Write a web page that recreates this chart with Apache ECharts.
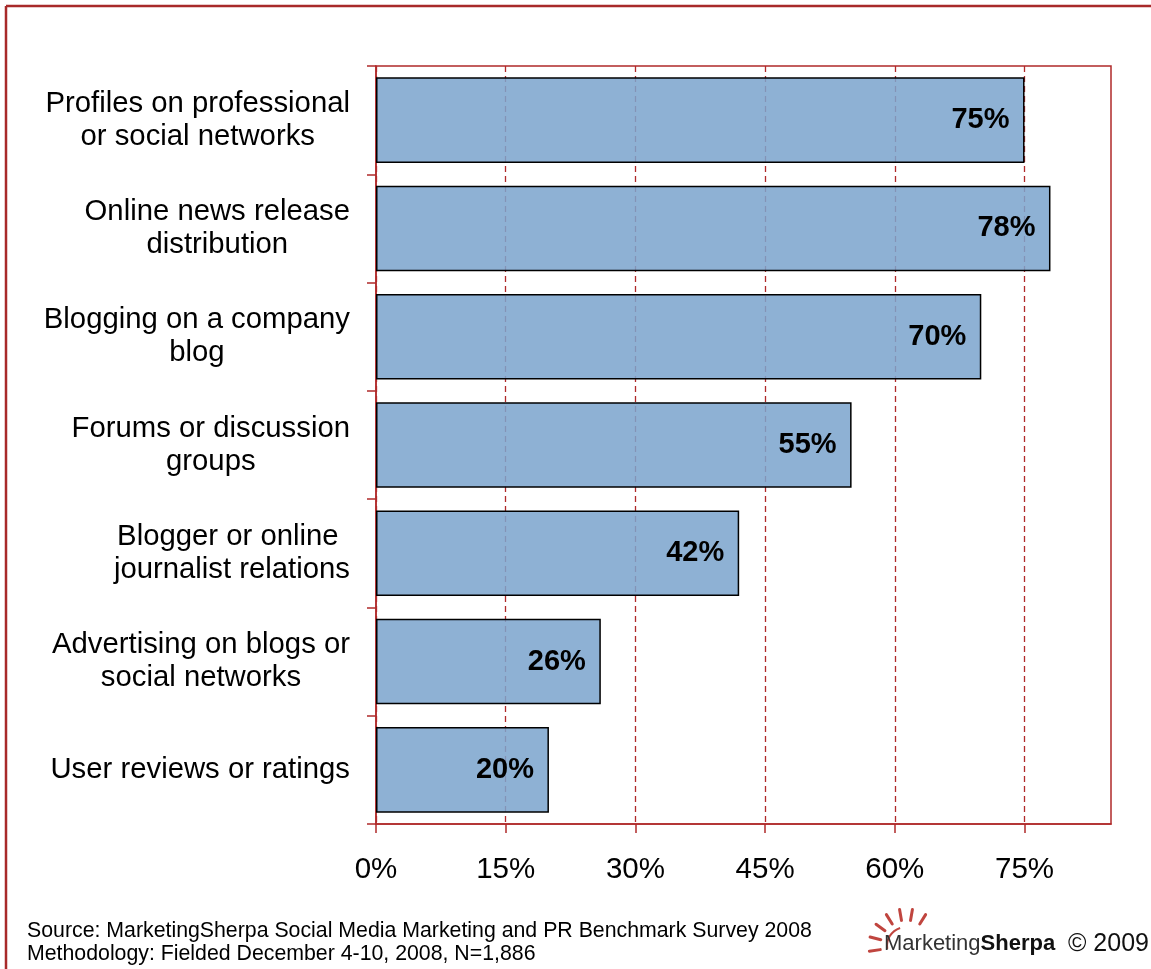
<!DOCTYPE html>
<html>
<head>
<meta charset="utf-8">
<script src="https://cdn.jsdelivr.net/npm/echarts@6/dist/echarts.min.js"></script>
<style>
  html, body { margin: 0; padding: 0; background: #fff; }
  #chart { width: 1151px; height: 969px; }
</style>
</head>
<body>
<div id="chart"></div>
<script>
// Survey categories (top to bottom) and share of respondents using each tactic
const categories = [
  'Profiles on professional\nor social networks',
  'Online news release\ndistribution',
  'Blogging on a company\nblog',
  'Forums or discussion\ngroups',
  'Blogger or online \njournalist relations',
  'Advertising on blogs or\nsocial networks',
  'User reviews or ratings'
];
const values = [75, 78, 70, 55, 42, 26, 20];
const xTicks = [0, 15, 30, 45, 60, 75];

const RED = '#B02A2A';
const FONT = 'Liberation Sans, Arial, sans-serif';

const chart = echarts.init(document.getElementById('chart'), null, { renderer: 'canvas' });

// Small sun mark next to the publisher name
const sunCx = 906, sunCy = 946;
const rays = [];
const rayAngles = [100, 122, 144, 166, 188, 80, 58];
rayAngles.forEach(function (deg) {
  const a = deg * Math.PI / 180;
  rays.push({
    type: 'line',
    shape: {
      x1: sunCx + Math.cos(a) * 26, y1: sunCy - Math.sin(a) * 26,
      x2: sunCx + Math.cos(a) * 37, y2: sunCy - Math.sin(a) * 37
    },
    style: { stroke: '#C0453F', lineWidth: 3, lineCap: 'round' }
  });
});

chart.setOption({
  animation: false,
  backgroundColor: '#fff',
  grid: {
    left: 376, top: 66, right: 40, bottom: 145,
    show: true, borderColor: RED, borderWidth: 1.5, backgroundColor: 'transparent'
  },
  xAxis: {
    type: 'value',
    min: 0, max: 85, interval: 15,
    axisLine: { show: true, lineStyle: { color: RED, width: 1.5 } },
    axisTick: { show: true, length: 9, customValues: xTicks, lineStyle: { color: RED, width: 1.5 } },
    splitLine: { show: true, lineStyle: { color: RED, width: 1.3, type: [6, 4] } },
    axisLabel: {
      customValues: xTicks,
      formatter: '{value}%',
      margin: 31,
      color: '#000',
      fontFamily: FONT,
      fontSize: 29.5
    }
  },
  yAxis: {
    type: 'category',
    inverse: true,
    data: categories,
    axisLine: { show: true, lineStyle: { color: RED, width: 1.5 } },
    axisTick: { show: true, length: 9, inside: false, lineStyle: { color: RED, width: 1.5 } },
    splitLine: { show: false },
    axisLabel: {
      align: 'right',
      margin: 26,
      formatter: function (v) {
        return v.split('\n').map(function (l) { return '{c|' + l + '}'; }).join('\n');
      },
      rich: {
        c: { align: 'center', color: '#000', fontFamily: FONT, fontSize: 29.3, lineHeight: 33 }
      }
    }
  },
  series: [{
    type: 'bar',
    data: values,
    barWidth: '79%',
    itemStyle: {
      color: 'rgba(124,164,205,0.86)',
      borderColor: '#000',
      borderWidth: 1.5
    },
    label: {
      show: true,
      position: 'insideRight',
      distance: 15,
      formatter: '{c}%',
      color: '#000',
      fontFamily: FONT,
      fontWeight: 'bold',
      fontSize: 29
    }
  }],
  graphic: [
    // page frame: left and top rules
    { type: 'line', shape: { x1: 6, y1: 6, x2: 6, y2: 969 }, style: { stroke: '#A82A2A', lineWidth: 2.5 } },
    { type: 'line', shape: { x1: 6, y1: 6, x2: 1151, y2: 6 }, style: { stroke: '#A82A2A', lineWidth: 2.5 } },
    {
      type: 'text', left: 27, top: 920,
      style: {
        text: 'Source: MarketingSherpa Social Media Marketing and PR Benchmark Survey 2008\nMethodology: Fielded December 4-10, 2008, N=1,886',
        font: '21.3px ' + FONT, fill: '#000', lineHeight: 23
      }
    },
    {
      type: 'arc',
      shape: { cx: sunCx, cy: sunCy, r: 19, startAngle: Math.PI * 0.95, endAngle: Math.PI * 1.4 },
      style: { stroke: '#C0453F', lineWidth: 2, fill: null }
    }
  ].concat(rays).concat([
    {
      type: 'text', left: 884, top: 933,
      style: {
        text: '{m|Marketing}{s|Sherpa}',
        rich: {
          m: { font: '22px ' + FONT, fill: '#333' },
          s: { font: 'bold 22px ' + FONT, fill: '#111' }
        }
      }
    },
    {
      type: 'text', left: 1068, top: 932,
      style: { text: '\u00A9 2009', font: '25px ' + FONT, fill: '#111' }
    }
  ])
});
</script>
</body>
</html>
